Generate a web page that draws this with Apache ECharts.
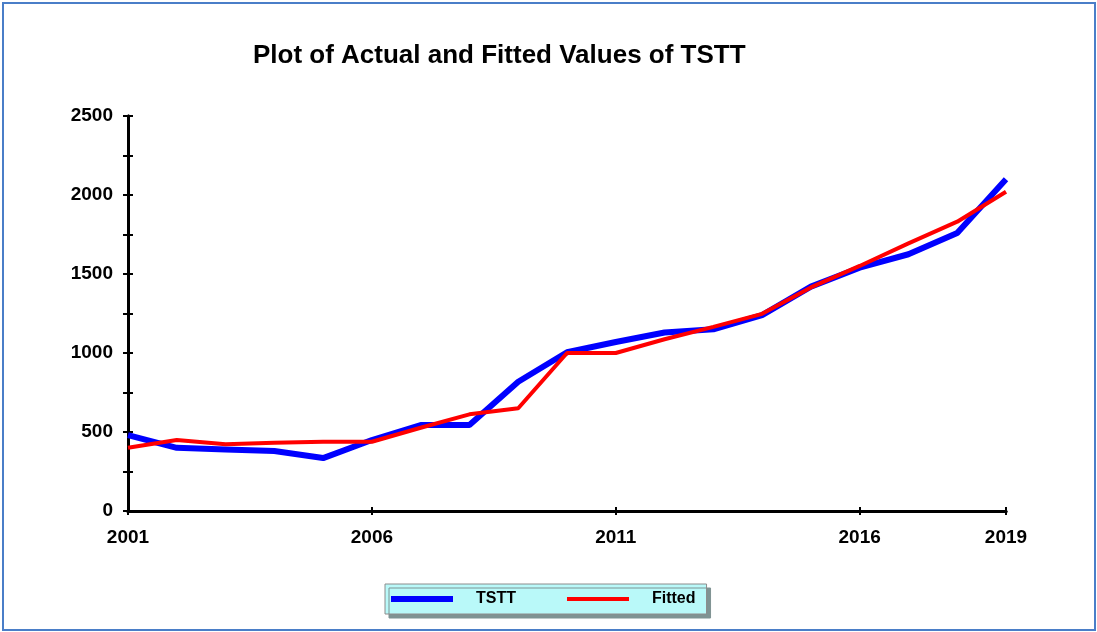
<!DOCTYPE html>
<html>
<head>
<meta charset="utf-8">
<script src="https://cdn.jsdelivr.net/npm/echarts@6/dist/echarts.min.js"></script>
<style>html,body{margin:0;padding:0;background:#fff;}#c{width:1097px;height:632px;}</style>
</head>
<body>
<div id="c"></div>
<script>
const years = ['2001','2002','2003','2004','2005','2006','2007','2008','2009','2010','2011','2012','2013','2014','2015','2016','2017','2018','2019'];
const tstt = [480, 400, 390, 380, 335, 449, 544, 545, 818, 1005, 1070, 1130, 1150, 1240, 1420, 1540, 1625, 1760, 2100];
const fitted = [400, 449, 422, 432, 439, 438, 527, 612, 650, 1000, 1000, 1087, 1165, 1248, 1415, 1551, 1694, 1831, 2021];
const xLabelIdx = [0, 5, 10, 15, 18];
const yTicks = {min: 0, max: 2500, interval: 500};

const FONT = '"Liberation Sans", Arial, sans-serif';
const chart = echarts.init(document.getElementById('c'));
const gridBox = {left: 128, right: 91, top: 116, bottom: 121};
const tickStyle = {color: '#000', width: 2};
const baseX = {
  type: 'category', data: years, boundaryGap: false, position: 'bottom',
  axisLine: {show: true, onZero: false, lineStyle: {color: '#000', width: 3}},
  splitLine: {show: false}
};
const baseY = {
  type: 'value', min: yTicks.min, max: yTicks.max, interval: yTicks.interval, position: 'left',
  axisLine: {show: true, onZero: false, lineStyle: {color: '#000', width: 3}},
  splitLine: {show: false}
};
chart.setOption({
  animation: false,
  backgroundColor: '#fff',
  title: {
    text: 'Plot of Actual and Fitted Values of TSTT',
    left: 248, top: 38,
    textStyle: {fontFamily: FONT, fontWeight: 'bold', fontSize: 26, color: '#000'}
  },
  grid: [Object.assign({}, gridBox), Object.assign({}, gridBox)],
  xAxis: [
    Object.assign({}, baseX, {
      gridIndex: 0,
      axisTick: {show: true, inside: false, length: 4, lineStyle: tickStyle,
        interval: (i) => xLabelIdx.includes(i)},
      axisLabel: {show: true, margin: 17, interval: (i) => xLabelIdx.includes(i),
        fontFamily: FONT, fontWeight: 'bold', fontSize: 19, color: '#000'}
    }),
    Object.assign({}, baseX, {
      gridIndex: 1,
      axisTick: {show: true, inside: true, length: 4, lineStyle: tickStyle,
        interval: (i) => xLabelIdx.includes(i)},
      axisLabel: {show: false}
    })
  ],
  yAxis: [
    Object.assign({}, baseY, {
      gridIndex: 0,
      axisTick: {show: true, inside: false, length: 5, lineStyle: tickStyle},
      minorTick: {show: true, splitNumber: 2, length: 5, lineStyle: tickStyle},
      axisLabel: {margin: 15, padding: [4, 0, 0, 0], formatter: (v) => String(v),
        fontFamily: FONT, fontWeight: 'bold', fontSize: 19, color: '#000'}
    }),
    Object.assign({}, baseY, {
      gridIndex: 1,
      axisTick: {show: true, inside: true, length: 5, lineStyle: tickStyle},
      minorTick: {show: true, splitNumber: 2, length: 5, lineStyle: tickStyle},
      axisLabel: {show: false}
    })
  ],
  legend: {
    left: 385, top: 584,
    orient: 'horizontal',
    itemWidth: 62, itemHeight: 6, itemGap: 51,
    padding: [7, 11, 7, 6],
    backgroundColor: '#B9F9F9',
    borderColor: '#8c8c8c', borderWidth: 1,
    shadowColor: '#7f9393', shadowOffsetX: 4, shadowOffsetY: 4, shadowBlur: 0,
    textStyle: {fontFamily: FONT, fontWeight: 'bold', fontSize: 16, color: '#000', padding: [0, 0, 0, 18]},
    data: [
      {name: 'TSTT', icon: 'rect', itemStyle: {color: '#0000FF'}},
      {name: 'Fitted', icon: 'path://M0,0h62v4h-62z', itemStyle: {color: '#FF0000'}}
    ]
  },
  series: [
    {name: 'TSTT', type: 'line', data: tstt, symbol: 'none', xAxisIndex: 0, yAxisIndex: 0,
      lineStyle: {color: '#0000FF', width: 6}, itemStyle: {color: '#0000FF'}},
    {name: 'Fitted', type: 'line', data: fitted, symbol: 'none', xAxisIndex: 0, yAxisIndex: 0,
      lineStyle: {color: '#FF0000', width: 4}, itemStyle: {color: '#FF0000'}}
  ],
  graphic: [{
    type: 'rect', silent: true,
    shape: {x: 3, y: 3, width: 1092, height: 627},
    style: {fill: 'none', stroke: '#4A7EC8', lineWidth: 2}
  }]
});
</script>
</body>
</html>
